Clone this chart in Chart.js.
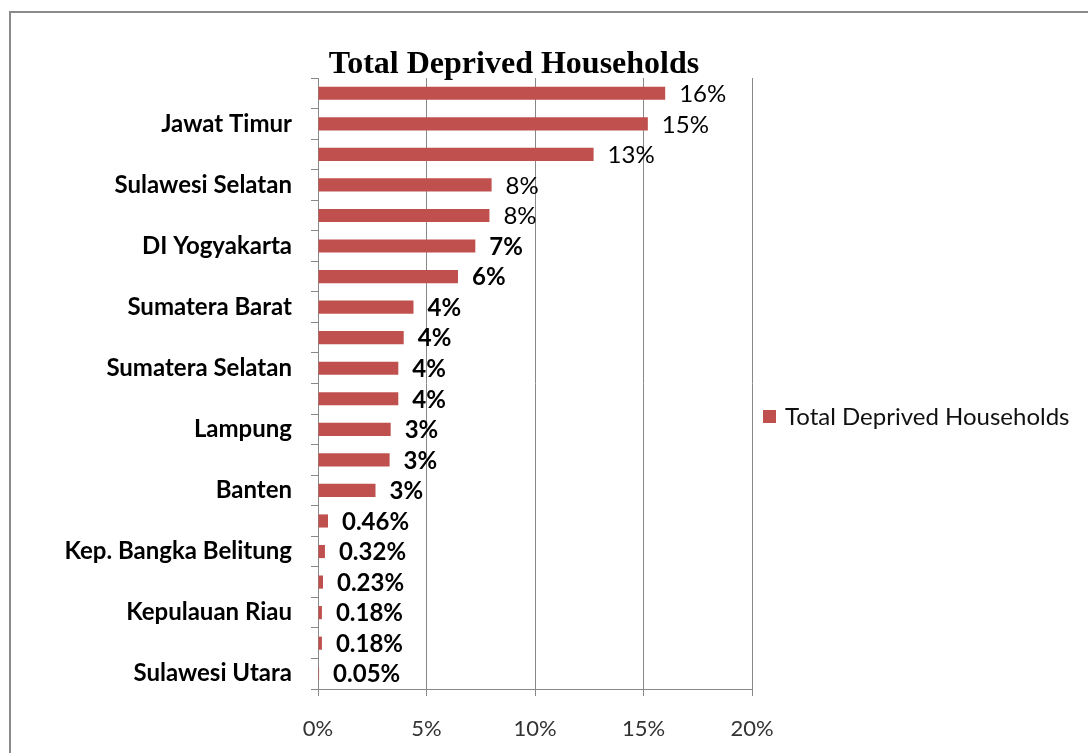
<!DOCTYPE html>
<html>
<head>
<meta charset="utf-8">
<title>Total Deprived Households</title>
<script src="https://cdn.jsdelivr.net/npm/chart.js@4/dist/chart.umd.min.js"></script>
<style>
  html, body { margin: 0; padding: 0; background: #fff; }
  #wrap { position: relative; width: 1088px; height: 753px; overflow: hidden; }
  #frame {
    position: absolute; left: 9px; top: 11px; width: 1200px; height: 900px;
    border-left: 2px solid #8a8a8a; border-top: 2px solid #8a8a8a;
  }
  #chart { position: absolute; left: 0; top: 0; }
</style>
</head>
<body>
<div id="wrap">
  <div id="frame"></div>
  <canvas id="chart" width="1088" height="753"></canvas>
</div>
<script>
// province names (only every other one is printed in the source chart)
const provinces = [
  '', 'Jawat Timur', '', 'Sulawesi Selatan', '', 'DI Yogyakarta',
  '', 'Sumatera Barat', '', 'Sumatera Selatan', '', 'Lampung',
  '', 'Banten', '', 'Kep. Bangka Belitung', '', 'Kepulauan Riau',
  '', 'Sulawesi Utara'
];

// share of deprived households, in percent
const deprivedShare = [
  16.0, 15.2, 12.7, 8.0, 7.9, 7.25, 6.45, 4.4, 3.95, 3.7,
  3.7, 3.35, 3.3, 2.65, 0.46, 0.32, 0.23, 0.18, 0.18, 0.05
];

const seriesName = 'Total Deprived Households';
const pctTicks = [0, 5, 10, 15, 20];

const barColor = '#C0504D';
const axisColor = '#888888';
const labelFont = 'Lato, "Open Sans", sans-serif';

// Excel style: whole percent above 1%, two decimals below
function fmtPct(v) {
  return v >= 1 ? Math.round(v) + '%' : v.toFixed(2) + '%';
}

// value labels to the right of each bar
const valueLabels = {
  id: 'valueLabels',
  afterDatasetsDraw(chart) {
    const ctx = chart.ctx;
    const meta = chart.getDatasetMeta(0);
    ctx.save();
    ctx.fillStyle = '#000';
    ctx.textAlign = 'left';
    ctx.textBaseline = 'middle';
    meta.data.forEach((bar, i) => {
      ctx.font = (i < 5 ? '' : 'bold ') + '24px ' + labelFont;
      ctx.fillText(fmtPct(deprivedShare[i]), bar.x + 14, bar.y + 1);
    });
    ctx.restore();
  }
};

// title and legend, placed like the original
const titleAndLegend = {
  id: 'titleAndLegend',
  afterDraw(chart) {
    const ctx = chart.ctx;
    const area = chart.chartArea;
    ctx.save();
    ctx.fillStyle = '#000';
    ctx.font = 'bold 32px "Liberation Serif", "Times New Roman", serif';
    ctx.textAlign = 'center';
    ctx.textBaseline = 'alphabetic';
    ctx.fillText(seriesName, 514, 73);

    const lx = area.right + 11;
    const ly = 417;
    ctx.fillStyle = barColor;
    ctx.fillRect(lx, ly - 7, 13, 13);
    ctx.fillStyle = '#111';
    ctx.font = '24px ' + labelFont;
    ctx.textAlign = 'left';
    ctx.textBaseline = 'middle';
    ctx.fillText(seriesName, lx + 22, ly);
    ctx.restore();
  }
};

new Chart(document.getElementById('chart'), {
  type: 'bar',
  data: {
    labels: provinces,
    datasets: [{
      label: seriesName,
      data: deprivedShare,
      backgroundColor: barColor,
      barPercentage: 0.43,
      categoryPercentage: 1
    }]
  },
  options: {
    indexAxis: 'y',
    responsive: false,
    animation: false,
    layout: { padding: { top: 78, right: 336, bottom: 0, left: 0 } },
    plugins: {
      legend: { display: false },
      title: { display: false },
      tooltip: { enabled: false }
    },
    scales: {
      x: {
        min: pctTicks[0],
        max: pctTicks[pctTicks.length - 1],
        afterBuildTicks: s => { s.ticks = pctTicks.map(v => ({ value: v })); },
        afterFit: s => { s.height = 64; },
        ticks: {
          callback: v => v + '%',
          color: '#333',
          padding: 20,
          font: { family: labelFont, size: 22 }
        },
        grid: { color: axisColor, tickLength: 7 },
        border: { color: axisColor }
      },
      y: {
        afterFit: s => { s.width = 318; },
        ticks: {
          autoSkip: false,
          color: '#000',
          padding: 19,
          font: { family: labelFont, size: 24, weight: 'bold' }
        },
        grid: { drawOnChartArea: false, color: axisColor, tickLength: 7, offset: true },
        border: { color: axisColor }
      }
    }
  },
  plugins: [valueLabels, titleAndLegend]
});
</script>
</body>
</html>
